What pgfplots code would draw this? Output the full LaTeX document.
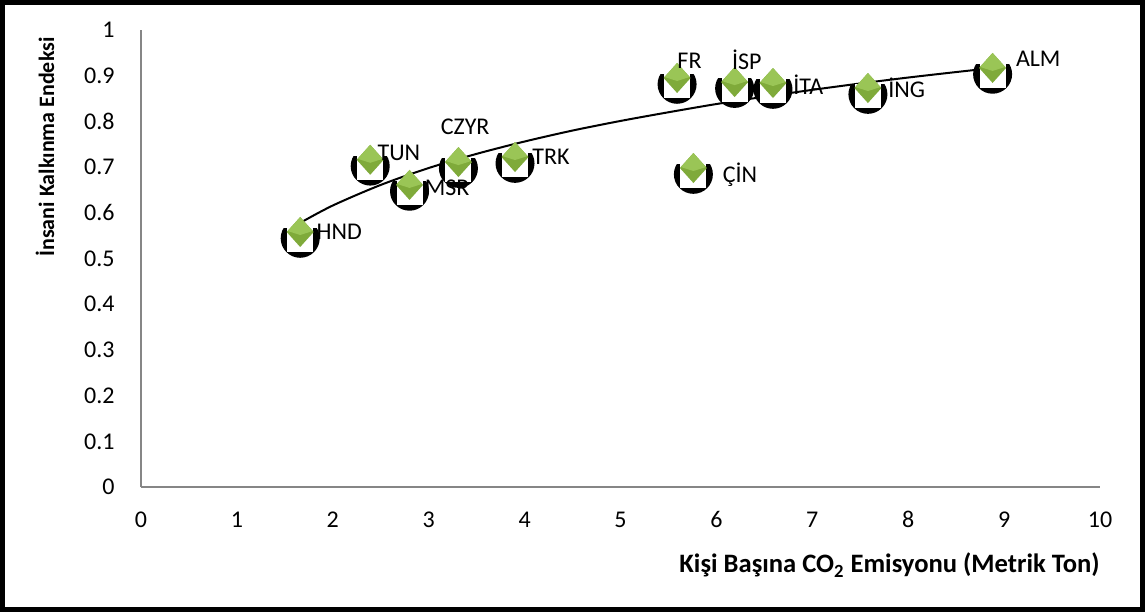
\documentclass[border=0pt]{standalone}
\usepackage{fontspec}
\setmainfont{Carlito}
\usepackage{pgfplots}
\usepackage{pgfplotstable}
\pgfplotsset{compat=1.18}

\definecolor{axisgray}{HTML}{868686}
\definecolor{gemlight}{HTML}{9AC556}
\definecolor{gemdark}{HTML}{7FAA3A}

% green diamond, lighter in its upper half
\pgfdeclareplotmark{gem}{%
  \pgfsetfillcolor{gemdark}%
  \pgfpathmoveto{\pgfqpoint{0pt}{7.5pt}}%
  \pgfpathlineto{\pgfqpoint{6.75pt}{0pt}}%
  \pgfpathlineto{\pgfqpoint{0pt}{-7.5pt}}%
  \pgfpathlineto{\pgfqpoint{-6.75pt}{0pt}}%
  \pgfpathclose
  \pgfusepath{fill}%
  \pgfsetfillcolor{gemlight}%
  \pgfpathmoveto{\pgfqpoint{0pt}{7.5pt}}%
  \pgfpathlineto{\pgfqpoint{6.3pt}{0.5pt}}%
  \pgfpathlineto{\pgfqpoint{0pt}{-1.5pt}}%
  \pgfpathlineto{\pgfqpoint{-6.3pt}{0.5pt}}%
  \pgfpathclose
  \pgfusepath{fill}%
}
% black rounded cup with a white inner panel
\pgfdeclareplotmark{cup}{%
  \pgfscope
    \pgfpathrectangle{\pgfqpoint{-12pt}{-12pt}}{\pgfqpoint{24pt}{17pt}}%
    \pgfusepath{clip}%
    \pgfsetfillcolor{black}%
    \pgfpathcircle{\pgfpointorigin}{9.75pt}%
    \pgfusepath{fill}%
  \endpgfscope
  \pgfsetfillcolor{white}%
  \pgfpathrectangle{\pgfqpoint{-6.5pt}{-7pt}}{\pgfqpoint{13pt}{12pt}}%
  \pgfusepath{fill}%
}

% country, CO2 per capita (t), HDI, label offsets (pt)
\pgfplotstableread[col sep=comma]{
x,y,lab,dx,dy
1.66,0.558,HND,8,-3.85
2.39,0.716,TUN,3.5,-0.35
2.80,0.661,MSR,7.5,-5.35
3.31,0.711,CZYR,-9,13.65
3.90,0.722,TRK,8.5,-3.85
5.59,0.895,FR,0,4.65
6.19,0.886,İSP,-1.5,6.15
6.59,0.884,İTA,10,-5.85
7.58,0.873,İNG,10,-4.85
8.88,0.917,ALM,11.5,0.65
5.76,0.698,ÇİN,14.5,-7.35
}\hditable

% logarithmic trend line
\pgfplotstableread[col sep=comma]{
x,y
1.66,0.578
2.0,0.616
2.5,0.661
3.0,0.698
3.5,0.729
4.0,0.756
4.5,0.780
5.0,0.801
5.5,0.820
6.0,0.838
6.5,0.854
7.0,0.869
7.5,0.883
8.0,0.896
8.5,0.908
8.89,0.917
}\trendtable

\begin{document}
\begin{tikzpicture}[font=\fontsize{12}{14.4}\selectfont]
\begin{axis}[
  at={(70.5pt,62.5pt)}, anchor=south west,
  scale only axis,
  width=479.5pt, height=228.5pt,
  xmin=0, xmax=10, ymin=0, ymax=1,
  xtick={0,1,...,10},
  ytick={0,0.1,0.2,0.3,0.4,0.5,0.6,0.7,0.8,0.9,1},
  axis x line*=bottom, axis y line*=left,
  axis line style={axisgray, line width=0.75pt},
  major tick length=0pt,
  /pgf/number format/assume math mode=true,
  /pgf/number format/fixed,
  xticklabel style={anchor=base, inner sep=0pt, yshift=-20.3pt},
  yticklabel style={anchor=east, inner sep=0pt, xshift=-13pt},
  clip=false,
]
% black cup markers
\addplot[only marks, mark=cup, mark options={yshift=-3.15pt}]
  table[x=x, y=y] {\hditable};
% green diamonds with country labels
\addplot[only marks, mark=gem,
  point meta=explicit symbolic,
  visualization depends on={\thisrow{dx} \as \labdx},
  visualization depends on={\thisrow{dy} \as \labdy},
  nodes near coords,
  nodes near coords style={anchor=base west, inner sep=0pt,
    xshift=\labdx pt, yshift=\labdy pt, text=black},
  ] table[x=x, y=y, meta=lab] {\hditable};
% trend line
\addplot[black, line width=1pt, smooth, no marks]
  table[x=x, y=y] {\trendtable};
\end{axis}
\node[rotate=90, font=\fontsize{11}{13.2}\selectfont\bfseries] at (22.5pt,232.5pt) {İnsani Kalkınma Endeksi};
\node[anchor=base east, inner sep=0pt, font=\fontsize{13.3}{16}\selectfont\bfseries] at (550pt,19.65pt) {Kişi Başına CO\textsubscript{2} Emisyonu (Metrik Ton)};
\draw[line width=2.5pt] (1.25pt,1.25pt) rectangle (571.25pt,304.75pt);
\end{tikzpicture}
\end{document}
